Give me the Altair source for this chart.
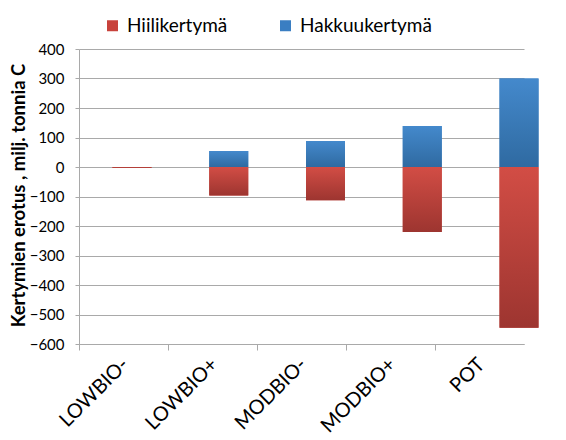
import altair as alt
import pandas as pd

categories = ["LOWBIO-", "LOWBIO+", "MODBIO-", "MODBIO+", "POT"]
series = ["Hiilikertymä", "Hakkuukertymä"]
hiili = [-3, -97, -113, -220, -545]
hakkuu = [0, 54, 88, 139, 300]
y_ticks = [-600, -500, -400, -300, -200, -100, 0, 100, 200, 300, 400]

rows = []
for c, h, k in zip(categories, hiili, hakkuu):
    rows.append({"category": c, "series": series[0], "value": h})
    rows.append({"category": c, "series": series[1], "value": k})
df = pd.DataFrame(rows)

FONT = "Lato"
GRID = "#a9a9a9"

y_scale = alt.Scale(domain=[-600, 400], nice=False, zero=True)
y_axis = alt.Axis(values=y_ticks, title="Kertymien erotus , milj. tonnia C",
                  titleFont=FONT, titleFontSize=18.5, titleFontWeight="bold",
                  titleColor="black", titleX=-51, titleY=146, titleAngle=270,
                  titleAlign="center", titleBaseline="bottom",
                  labelFont=FONT, labelFontSize=15, labelColor="black",
                  labelPadding=11, tickSize=4, tickColor=GRID, domainColor=GRID,
                  grid=True, gridColor=GRID, gridWidth=1.2)

axis_layer = alt.Chart(df).mark_point(opacity=0).encode(
    x=alt.X("category:N", sort=categories,
            scale=alt.Scale(range=[0, 445], paddingInner=0, paddingOuter=0),
            axis=alt.Axis(title=None, labelAngle=315, tickOffset=-44.5, labelOffset=39,
                          labelFontSize=20, labelFont=FONT, labelColor="black",
                          tickSize=6, tickColor=GRID, domainColor=GRID, labelPadding=4,
                          grid=False)),
    y=alt.Y("value:Q", scale=y_scale, axis=y_axis),
)

bx = alt.X("category:N", sort=categories,
           scale=alt.Scale(range=[4.6, 488.4], paddingInner=0, paddingOuter=0),
           axis=None)
by = alt.Y("value:Q", stack=None, scale=y_scale, axis=y_axis)

base_bars = alt.Chart(df).mark_bar(size=39).encode(
    x=bx, y=by,
    color=alt.Color("series:N", scale=alt.Scale(domain=series, range=["#c8423b", "#3a7ec2"]),
                    legend=alt.Legend(orient="none", legendX=24, legendY=-33,
                                      direction="horizontal", title=None,
                                      symbolType="square", symbolSize=121,
                                      symbolStrokeWidth=0, labelFont=FONT,
                                      labelFontSize=19, labelColor="black",
                                      labelOffset=5, columnPadding=48)),
)

red_grad = alt.Gradient(gradient="linear", x1=0, x2=0, y1=0, y2=1,
                        stops=[alt.GradientStop(color="#d24d45", offset=0),
                               alt.GradientStop(color="#9d3530", offset=1)])
blue_grad = alt.Gradient(gradient="linear", x1=0, x2=0, y1=0, y2=1,
                         stops=[alt.GradientStop(color="#4489cc", offset=0),
                                alt.GradientStop(color="#2f6aa1", offset=1)])

red_bars = alt.Chart(df).mark_bar(size=39, color=red_grad).encode(x=bx, y=by).transform_filter(
    alt.datum.series == series[0])
blue_bars = alt.Chart(df).mark_bar(size=39, color=blue_grad).encode(x=bx, y=by).transform_filter(
    alt.datum.series == series[1])

chart = alt.layer(axis_layer, base_bars, red_bars, blue_bars).resolve_scale(
    x="independent"
).properties(
    width=478, height=295,
    autosize=alt.AutoSizeParams(type="none"),
    padding={"left": 71, "top": 41, "right": 0, "bottom": 94},
).configure_view(stroke=None)

chart.save("out.html", embed_options={"renderer": "svg", "actions": False})
